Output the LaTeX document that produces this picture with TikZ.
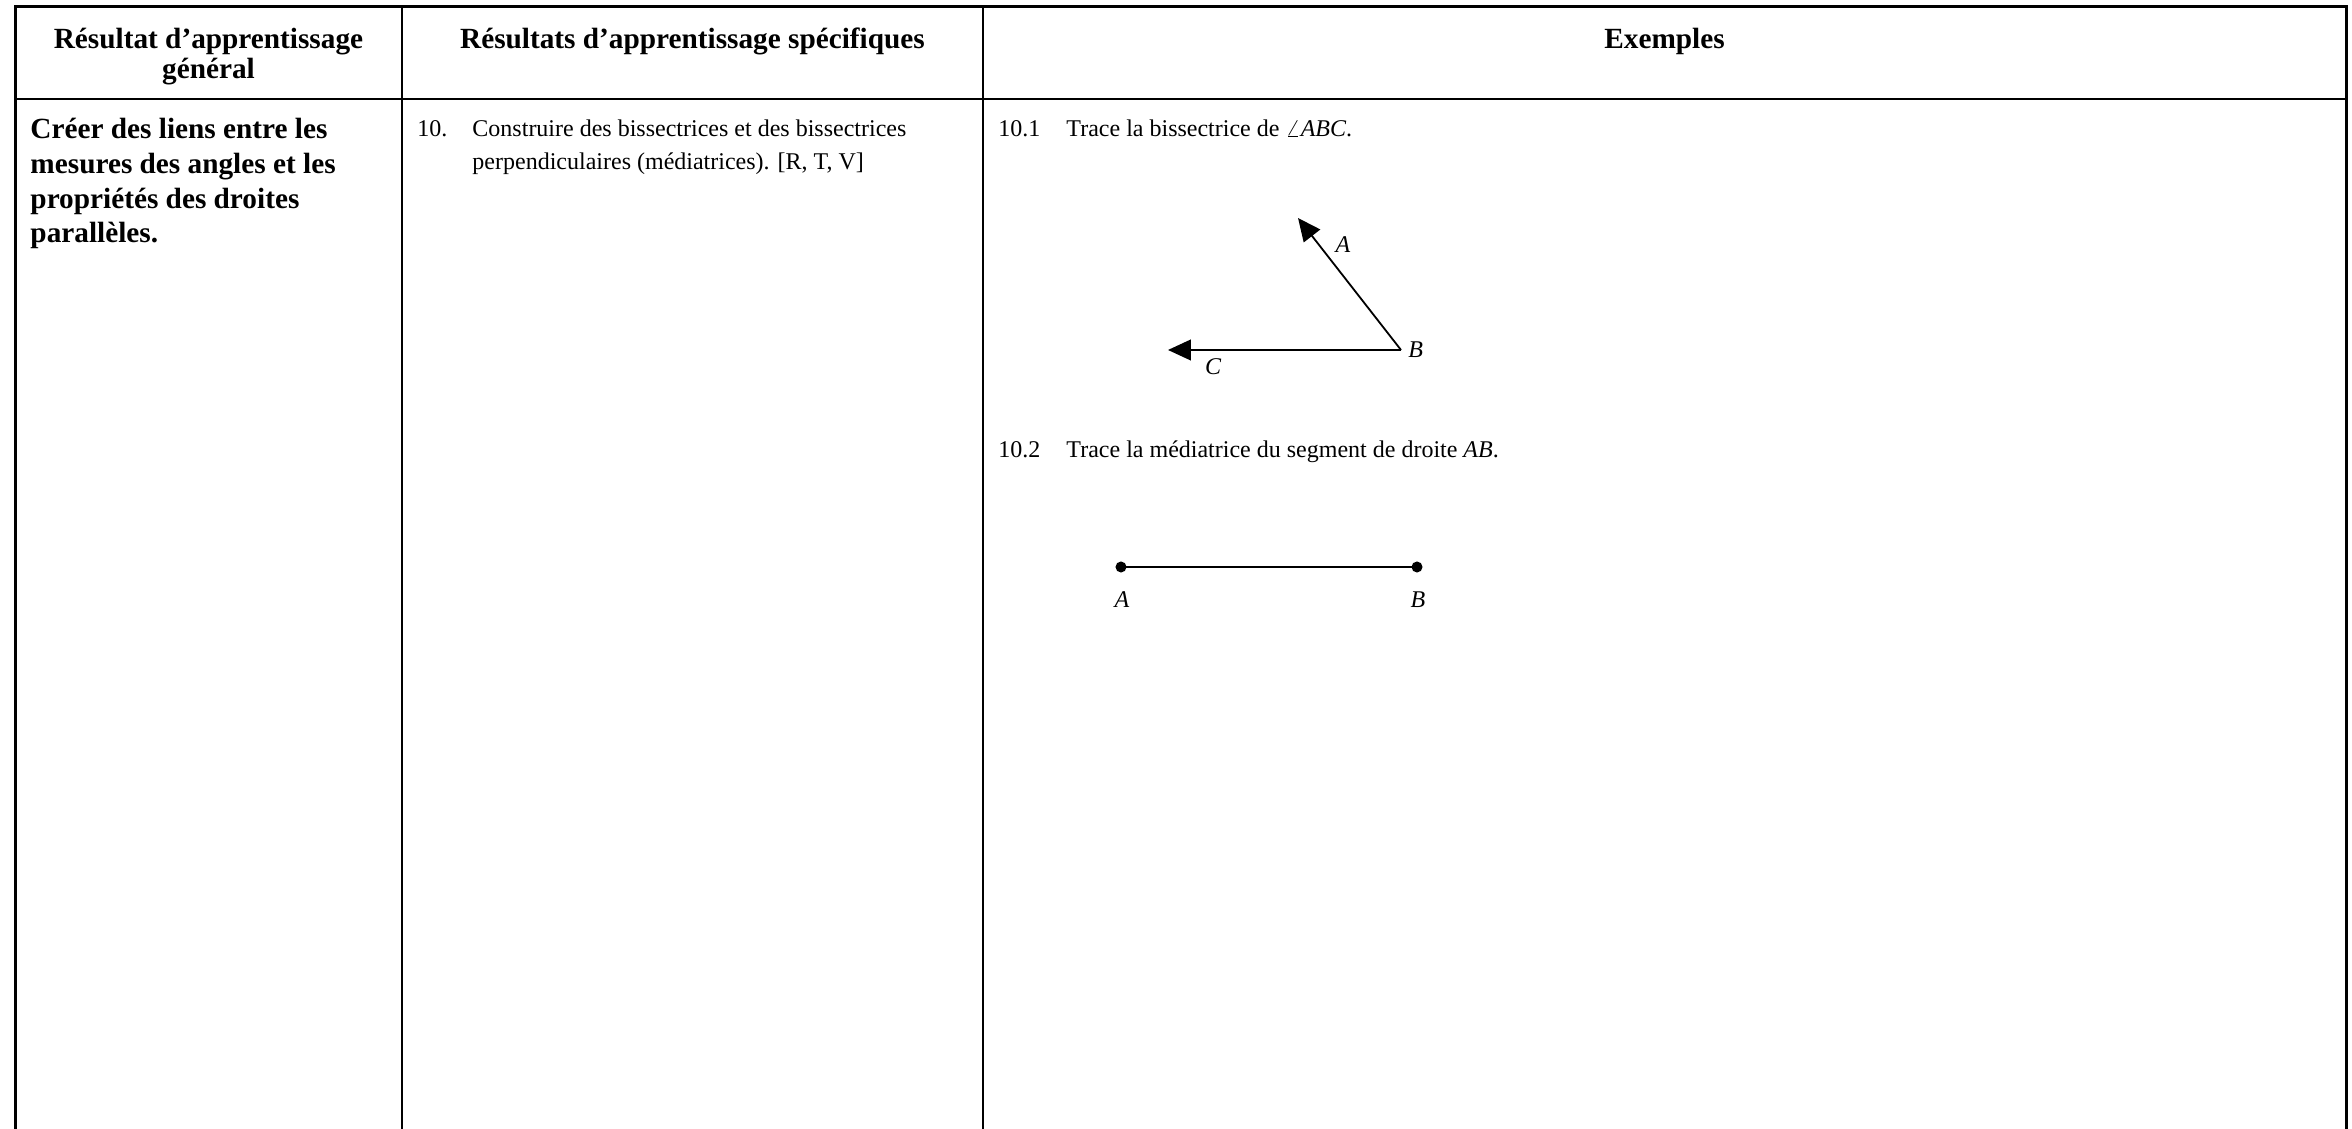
\documentclass[tikz,border=0pt]{standalone}
\usepackage{fontspec}
\setmainfont{Liberation Serif}
\usetikzlibrary{arrows.meta}
\tikzset{
  txt/.style={inner sep=0pt, anchor=base west, font=\fontsize{10pt}{13.75pt}\selectfont},
  head/.style={inner sep=0pt, anchor=base, font=\fontsize{12.2pt}{12.5pt}\selectfont\bfseries},
  ray/.style={line width=0.75pt, -{Triangle[length=9.5pt,width=8.6pt]}},
  lbl/.style={inner sep=0pt, font=\fontsize{10pt}{12pt}\selectfont\itshape},
}
\begin{document}
\begin{tikzpicture}[x=0.41667pt, y=-0.41667pt]
\useasboundingbox (0,0) rectangle (2352,1129);
% table frame
\draw[line width=1.25pt] (15,1140) -- (15,7) -- (2346,7) -- (2346,1140);
\draw[line width=0.85pt] (15,99) -- (2346,99);
\draw[line width=0.6pt] (402,7) -- (402,1140);
\draw[line width=0.6pt] (983,7) -- (983,1140);
% headers
\node[head] (hgen) at (208.5,49) {\parbox[t]{150pt}{\centering Résultat d’apprentissage\\général}};
\node[head] (hspec) at (692.5,49) {Résultats d’apprentissage spécifiques};
\node[head] (hex) at (1664.5,49) {Exemples};
% body
\node[inner sep=0pt, anchor=base west, font=\fontsize{12.2pt}{14.4pt}\selectfont\bfseries] (gen) at (30,139)
  {\parbox[t]{160pt}{\raggedright Créer des liens entre les\\mesures des angles et les\\propriétés des droites\\parallèles.}};
\node[txt] (num10) at (417,137) {10.};
\node[txt] (spec10) at (472,137) {\parbox[t]{220pt}{\raggedright Construire des bissectrices et des bissectrices\\perpendiculaires (médiatrices). [R, T, V]}};
\node[txt] (num1) at (998,137) {10.1};
\node[txt] (ex1) at (1066,137) {Trace la bissectrice de $\angle$\textit{ABC}.};
\node[txt] (num2) at (998,458) {10.2};
\node[txt] (ex2) at (1066,458) {Trace la médiatrice du segment de droite \textit{AB}.};
% angle ABC
\coordinate (B) at (1401,350);
\coordinate (A) at (1298,218);
\coordinate (C) at (1168,350);
\draw[ray] (B) -- (A);
\draw[ray] (B) -- (C);
\node[lbl] (la) at (1343,245) {A};
\node[lbl, anchor=west] (lb) at (1408,350) {B};
\node[lbl] (lc) at (1213,367) {C};
% segment AB
\coordinate (P) at (1121,567);
\coordinate (Q) at (1417,567);
\draw[line width=0.75pt] (P) -- (Q);
\fill (P) circle (2.3pt);
\fill (Q) circle (2.3pt);
\node[lbl] (lp) at (1122,600) {A};
\node[lbl] (lq) at (1418,600) {B};
\end{tikzpicture}
\end{document}
